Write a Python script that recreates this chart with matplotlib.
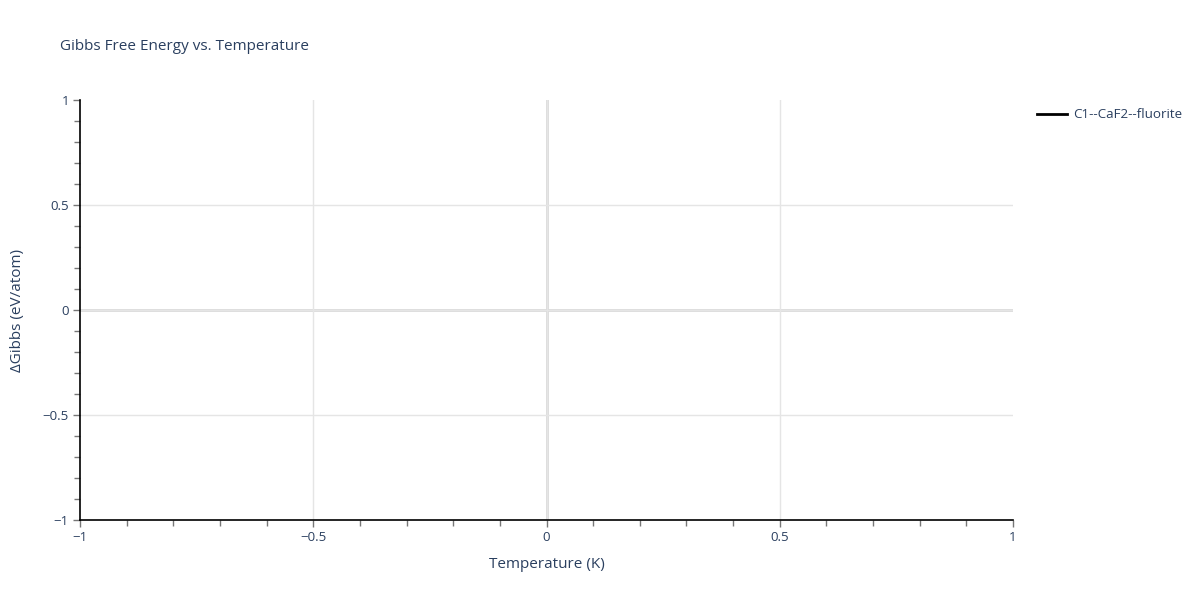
import matplotlib
matplotlib.use("Agg")
import matplotlib.pyplot as plt
from matplotlib.ticker import MultipleLocator, FuncFormatter

# Data (the series is empty in the reference)
series_name = "C1--CaF2--fluorite"
temperature = []
delta_gibbs = []

x_ticks = [-1, -0.5, 0, 0.5, 1]
y_ticks = [-1, -0.5, 0, 0.5, 1]

TXT = "#2a3f5f"
plt.rcParams['font.family'] = ['Open Sans', 'DejaVu Sans']

fig = plt.figure(figsize=(12, 6), dpi=100)
W, H = 1200, 600
x0, x1, y0, y1 = 80, 1013, 100, 520
ax = fig.add_axes([x0 / W, 1 - y1 / H, (x1 - x0) / W, (y1 - y0) / H])

ax.plot(temperature, delta_gibbs, color="black", lw=2, label=series_name)

ax.set_xlim(-1, 1)
ax.set_ylim(-1, 1)
ax.set_xticks(x_ticks)
ax.set_yticks(y_ticks)

def fmt(v, pos):
    if abs(v) < 1e-9:
        return "0"
    s = ("%g" % v)
    return s.replace("-", "\u2212")

ax.xaxis.set_major_formatter(FuncFormatter(fmt))
ax.yaxis.set_major_formatter(FuncFormatter(fmt))
ax.xaxis.set_minor_locator(MultipleLocator(0.1))
ax.yaxis.set_minor_locator(MultipleLocator(0.1))

ax.grid(True, which="major", color="#e5e5e5", lw=1)
# no grid lines at the far edges (as in the reference)
for gl, t in zip(ax.get_xgridlines(), x_ticks):
    if abs(t) == 1:
        gl.set_visible(False)
for gl, t in zip(ax.get_ygridlines(), y_ticks):
    if abs(t) == 1:
        gl.set_visible(False)
ax.axhline(0, color="#d9d9d9", lw=2, zorder=1)
ax.axvline(0, color="#d9d9d9", lw=2, zorder=1)

for s in ["top", "right"]:
    ax.spines[s].set_visible(False)
for s in ["left", "bottom"]:
    ax.spines[s].set_color("black")
    ax.spines[s].set_linewidth(1.2)

ax.tick_params(which="major", direction="out", length=5, width=1, color="#777777",
               labelcolor=TXT, labelsize=9.5, pad=3)
ax.tick_params(which="minor", direction="out", length=4, width=1, color="#777777")

ax.set_xlabel("Temperature (K)", color=TXT, fontsize=11, labelpad=9)
ax.set_ylabel("ΔGibbs (eV/atom)", color=TXT, fontsize=11, labelpad=13)

fig.text(60 / W, 1 - 46 / H, "Gibbs Free Energy vs. Temperature", color=TXT,
         fontsize=11, va="center", ha="left")

# legend
fig.legend(handles=ax.get_lines(), labels=[series_name], loc="upper left",
           bbox_to_anchor=(1032 / W, 1 - 103 / H), frameon=False,
           fontsize=9.6, labelcolor=TXT, handlelength=2.2, handletextpad=0.5,
           borderaxespad=0)

fig.savefig("out.png", dpi=100, facecolor="white")
